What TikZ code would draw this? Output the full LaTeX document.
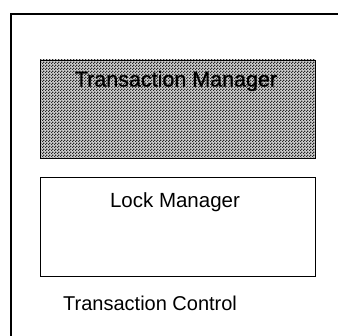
\documentclass[tikz,border=0pt]{standalone}
\usepackage{fontspec}
\setmainfont{Liberation Sans}
\newfontfamily\darkfont[FakeBold=0.9]{Liberation Sans}
\usetikzlibrary{patterns}
% fine checkerboard dither used as the shade of the manager box
\pgfdeclarepatternformonly{dither}{\pgfpointorigin}{\pgfqpoint{2.6pt}{2.6pt}}{\pgfqpoint{2.6pt}{2.6pt}}{%
  \pgfpathrectangle{\pgfpointorigin}{\pgfqpoint{1.3pt}{1.3pt}}%
  \pgfpathrectangle{\pgfqpoint{1.3pt}{1.3pt}}{\pgfqpoint{1.3pt}{1.3pt}}%
  \pgfusepath{fill}}
\begin{document}
\begin{tikzpicture}[x=1pt,y=-1pt,
  frame/.style={line width=1.4pt,black},
  module/.style={draw=black,line width=1pt},
  label/.style={font=\fontsize{20}{24}\selectfont,inner sep=0pt}]
\useasboundingbox (0,0) rectangle (338,336);
\fill[white] (0,0) rectangle (338,336);
% enclosing frame (open on the right and bottom)
\coordinate (fa) at (338,14);
\coordinate (fc) at (11,14);
\coordinate (fb) at (11,336);
\draw[frame] (fa) -- (fc) -- (fb);
% transaction manager
\fill[black!18] (40,60) rectangle (315,158);
\fill[pattern=dither,pattern color=black!85] (40,60) rectangle (315,158);
\node[module,minimum width=275pt,minimum height=98pt,anchor=north west,inner sep=0pt] (tm) at (40,60) {};
\node[label,font=\darkfont\fontsize{21.5}{24}\selectfont] (tmt) at (176,81) {Transaction Manager};
% lock manager
\node[module,fill=white,minimum width=275pt,minimum height=99pt,anchor=north west,inner sep=0pt] (lm) at (40,177) {};
\node[label,font=\fontsize{20.5}{24}\selectfont] (lmt) at (175,202) {Lock Manager};
% caption of the enclosing frame
\node[label,anchor=west] (tc) at (63,303) {Transaction Control};
\end{tikzpicture}
\end{document}
